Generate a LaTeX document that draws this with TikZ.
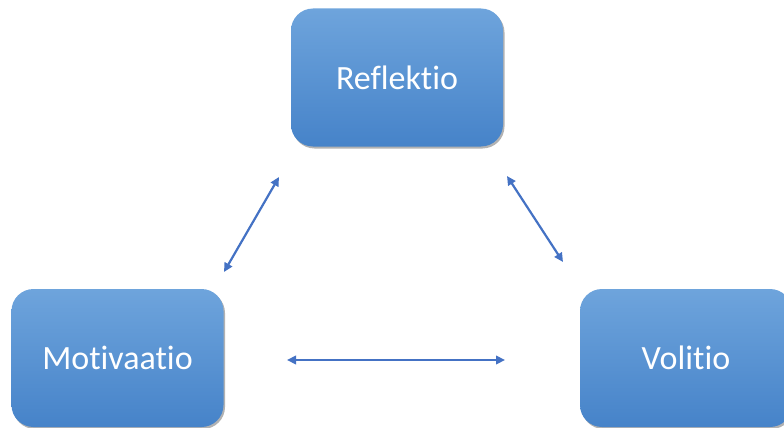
\documentclass[tikz,border=0pt]{standalone}
\usepackage{fontspec}
\setmainfont[Ligatures=NoCommon]{Carlito}
\usetikzlibrary{arrows.meta,shadows}
\definecolor{boxtop}{HTML}{6EA4DC}
\definecolor{boxbottom}{HTML}{4683C9}
\definecolor{linkblue}{HTML}{4472C4}
\tikzset{
  stage/.style={rounded corners=22pt, minimum width=212pt, minimum height=138pt,
    top color=boxtop, bottom color=boxbottom, draw=none,
    text=white, font=\fontsize{34}{40}\selectfont, inner sep=0pt,
    drop shadow={shadow xshift=1.5pt, shadow yshift=-2pt, opacity=0.3, fill=black}},
  link/.style={linkblue, line width=2.2pt, {Triangle[length=9pt,width=8.5pt]}-{Triangle[length=9pt,width=8.5pt]}}
}
\begin{document}
\begin{tikzpicture}[x=1pt,y=-1pt]
  \useasboundingbox (0,0) rectangle (784,428);
  \node[stage] (refl) at (397,77.5) {Reflektio};
  \node[stage] (moti) at (117.5,358) {Motivaatio};
  \node[stage] (voli) at (686,358) {Volitio};
  % free ends of the three double-headed links
  \coordinate (lA) at (279,177);
  \coordinate (lB) at (224,272);
  \coordinate (rA) at (507,176);
  \coordinate (rB) at (563,262);
  \coordinate (hA) at (287,360);
  \coordinate (hB) at (505,360);
  \draw[link] (lA) -- (lB);
  \draw[link] (rA) -- (rB);
  \draw[link] (hA) -- (hB);
\end{tikzpicture}
\end{document}
